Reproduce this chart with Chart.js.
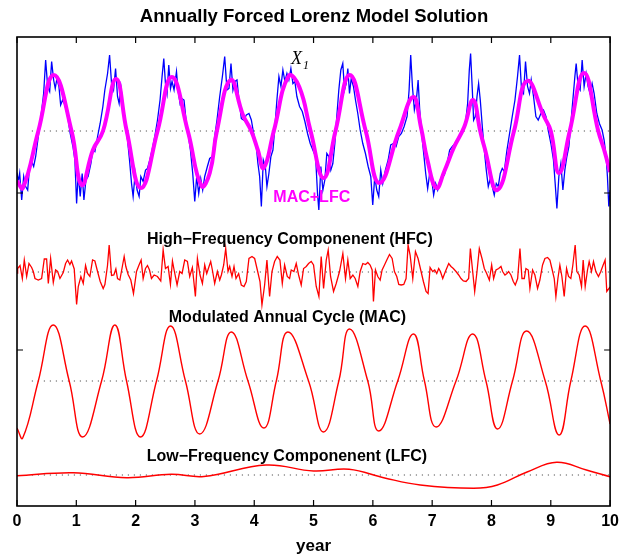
<!DOCTYPE html>
<html><head><meta charset="utf-8">
<script src="https://cdn.jsdelivr.net/npm/chart.js@4/dist/chart.umd.min.js"></script>
<style>html,body{margin:0;padding:0;background:#fff}canvas{display:block}</style>
</head><body>
<canvas id="c" width="625" height="558"></canvas>
<script>
// ---------- data (deviation of each component from its own zero line) ----------
const yearTicks = [0,1,2,3,4,5,6,7,8,9,10];
const yTickValues = [31.2, 62.6];

// X1 : full Lorenz variable (blue)
const x1T = [0.000,0.022,0.045,0.079,0.113,0.146,0.180,0.214,0.247,0.281,
0.315,0.359,0.404,0.449,0.483,0.517,0.551,0.584,0.618,0.645,
0.673,0.707,0.736,0.769,0.808,0.854,0.897,0.943,0.976,1.005,
1.032,1.066,1.099,1.128,1.162,1.199,1.246,1.279,1.313,1.359,
1.402,1.448,1.481,1.527,1.561,1.594,1.628,1.662,1.695,1.722,
1.751,1.785,1.818,1.864,1.897,1.931,1.958,1.992,2.025,2.059,
2.088,2.126,2.167,2.200,2.239,2.278,2.323,2.369,2.412,2.446,
2.475,2.503,2.530,2.559,2.588,2.614,2.648,2.689,2.715,2.749,
2.778,2.816,2.850,2.884,2.924,2.963,2.997,3.030,3.064,3.098,
3.131,3.165,3.210,3.249,3.295,3.333,3.372,3.418,3.463,3.502,
3.540,3.574,3.608,3.641,3.675,3.709,3.742,3.783,3.822,3.867,
3.911,3.951,3.990,4.035,4.062,4.091,4.120,4.153,4.187,4.214,
4.247,4.281,4.315,4.349,4.382,4.416,4.450,4.483,4.517,4.551,
4.584,4.618,4.652,4.685,4.719,4.764,4.810,4.854,4.899,4.944,
4.988,5.034,5.067,5.089,5.123,5.157,5.190,5.224,5.258,5.291,
5.325,5.359,5.392,5.426,5.460,5.493,5.522,5.551,5.578,5.606,
5.635,5.673,5.707,5.746,5.786,5.830,5.875,5.921,5.965,5.998,
6.032,6.066,6.099,6.133,6.167,6.212,6.258,6.301,6.347,6.392,
6.436,6.481,6.527,6.577,6.611,6.638,6.667,6.700,6.734,6.763,
6.790,6.823,6.857,6.891,6.924,6.958,6.992,7.025,7.059,7.093,
7.126,7.160,7.205,7.251,7.295,7.340,7.386,7.429,7.475,7.520,
7.564,7.598,7.626,7.648,7.677,7.699,7.727,7.756,7.783,7.811,
7.845,7.879,7.912,7.946,7.980,8.013,8.047,8.081,8.114,8.148,
8.182,8.215,8.261,8.305,8.350,8.396,8.439,8.473,8.507,8.540,
8.574,8.608,8.641,8.670,8.709,8.749,8.788,8.833,8.877,8.918,
8.956,9.002,9.045,9.074,9.103,9.136,9.170,9.204,9.237,9.271,
9.305,9.338,9.372,9.406,9.428,9.461,9.495,9.529,9.562,9.596,
9.630,9.663,9.697,9.731,9.776,9.820,9.865,9.899,9.933,9.955,
9.978,10.000];
const x1V = [-8.3,-10.1,-8.4,-13.8,-9.1,-11.1,-11.8,-6.8,-6.1,-7.1,
-5.1,-1.1,2.9,7.5,14.2,8.9,7.9,13.9,10.2,8.5,
10.5,8.9,5.2,6.2,5.2,2.9,-0.5,-3.1,-5.8,-14.5,
-8.5,-13.1,-8.5,-13.8,-9.8,-9.1,-6.5,-3.8,-4.1,-1.1,
1.5,4.9,8.2,11.5,15.2,9.5,8.2,12.5,6.9,5.5,
8.9,5.5,1.5,-1.8,-5.8,-10.5,-13.1,-8.5,-11.8,-13.1,
-9.1,-10.1,-7.8,-7.5,-5.8,-3.8,-1.1,2.2,6.2,10.9,
14.5,9.5,7.5,13.2,8.5,9.9,8.2,11.9,8.2,5.5,
6.5,6.2,2.2,-0.5,-3.8,-8.5,-14.1,-9.1,-12.5,-9.5,
-11.8,-9.1,-7.1,-5.5,-5.1,-1.1,2.2,6.9,10.9,14.9,
8.2,8.5,13.5,8.2,9.9,10.2,6.2,2.5,2.2,3.2,
3.5,2.2,-0.5,-3.1,-6.5,-9.1,-15.1,-5.8,-7.1,-11.1,
-8.5,-5.1,-3.8,0.9,6.2,10.9,8.9,12.2,9.9,11.5,
10.2,12.5,9.5,9.9,6.9,4.9,3.9,1.9,-0.5,-2.5,
-3.8,-5.1,-12.5,-15.8,-7.1,-11.8,-9.8,-4.5,-5.1,-7.8,
-6.5,-2.5,2.9,8.2,12.2,13.5,8.2,9.5,12.5,7.5,
10.5,8.9,6.2,3.5,0.2,-2.5,-4.5,-7.1,-9.1,-14.8,
-9.1,-11.8,-13.1,-7.8,-10.5,-7.8,-5.8,-2.8,-2.5,-3.1,
-1.1,-0.5,0.9,2.9,8.2,15.2,8.9,4.2,6.2,10.2,
4.2,-0.5,-4.5,-8.5,-11.5,-8.5,-9.8,-12.8,-10.5,-11.8,
-10.1,-9.1,-8.8,-6.5,-3.8,-3.1,-2.5,-1.8,-1.1,0.2,
1.9,5.5,12.2,15.5,8.2,2.2,2.9,6.9,9.5,6.2,
0.9,-3.8,-7.8,-11.1,-9.5,-11.1,-12.8,-10.5,-11.1,-8.5,
-7.5,-8.1,-3.8,-0.5,2.9,6.2,10.9,15.2,8.2,7.5,
13.9,8.9,7.5,10.2,6.9,2.9,2.2,3.5,4.2,2.9,
0.2,-2.5,-5.8,-10.5,-15.5,-9.1,-6.5,-11.8,-7.8,-5.1,
-3.1,1.5,6.2,10.9,13.5,8.9,8.2,14.2,8.9,11.5,
8.9,7.5,9.5,7.5,3.5,1.5,0.2,-1.8,-5.1,-9.1,
-15.1,-11.8];

// MAC+LFC (magenta)
const magT = [0,0.10,0.36,0.62,0.92,1.09,1.28,1.45,1.67,1.85,2.09,2.37,2.61,2.88,3.11,3.25,3.37,3.60,3.81,3.95,
4.06,4.16,4.33,4.58,4.76,4.95,5.17,5.37,5.61,5.88,6.11,6.44,6.68,6.81,6.92,7.07,7.20,7.37,7.54,7.69,
7.81,7.88,8.10,8.38,8.60,8.89,9.00,9.14,9.32,9.56,9.80,9.90,10.0];
const magV = [-10.0,-11.4,0,11.2,0,-10.8,-3.8,0,10.4,0,-11.4,0,10.8,0,-11.0,-8.4,0,10.2,3.2,0,
-3.8,-7.4,0,11.0,8.8,0,-9.4,0,11.2,0,-10.4,0,6.8,0.8,-5.8,-11.4,-8.2,-3.2,0.8,6.2,
0,-3.2,-11.8,0,10.0,2.8,0,-8.4,0,11.6,0,-3.8,-8.2];

// HFC
const hfcT = [0,0.011,0.051,0.090,0.123,0.163,0.202,0.247,0.275,0.303,
0.359,0.415,0.460,0.499,0.528,0.567,0.612,0.651,0.685,0.724,
0.780,0.819,0.853,0.892,0.920,0.965,1.005,1.033,1.077,1.117,
1.156,1.190,1.229,1.274,1.313,1.358,1.403,1.453,1.482,1.526,
1.554,1.594,1.633,1.667,1.695,1.734,1.773,1.807,1.835,1.874,
1.919,1.964,2.015,2.054,2.093,2.127,2.166,2.200,2.234,2.267,
2.312,2.368,2.424,2.464,2.503,2.548,2.587,2.621,2.649,2.699,
2.744,2.783,2.828,2.873,2.912,2.957,3.008,3.042,3.086,3.126,
3.165,3.199,3.238,3.266,3.294,3.333,3.378,3.418,3.446,3.485,
3.519,3.558,3.586,3.625,3.659,3.693,3.737,3.782,3.827,3.866,
3.911,3.962,4.007,4.052,4.097,4.130,4.175,4.214,4.259,4.299,
4.343,4.388,4.433,4.473,4.512,4.557,4.596,4.624,4.669,4.708,
4.748,4.792,4.832,4.877,4.916,4.961,5.000,
5.045,5.090,5.129,5.169,5.214,5.247,5.287,5.337,5.382,5.438,
5.494,5.539,5.578,5.618,5.663,5.702,5.747,5.786,5.831,5.876,
5.915,5.954,5.988,6.010,6.044,6.083,6.123,6.156,6.196,6.235,
6.280,6.325,6.364,6.403,6.437,6.476,6.521,6.560,6.594,6.628,
6.673,6.718,6.762,6.813,6.852,6.897,6.931,6.965,7.009,7.043,
7.077,7.110,7.139,7.178,7.223,7.279,7.318,7.357,7.402,7.447,
7.486,7.526,7.571,7.615,7.644,7.683,7.717,7.756,7.795,7.840,
7.879,7.919,7.964,8.003,8.036,8.076,8.121,8.160,8.188,8.227,
8.261,8.289,8.328,8.368,8.401,8.441,8.480,8.514,8.553,8.581,
8.620,8.648,8.693,8.732,8.777,8.816,8.861,8.901,8.946,8.985,
9.019,9.058,9.086,9.120,9.153,9.187,9.226,9.266,9.299,9.338,
9.372,9.411,9.439,9.479,9.518,9.546,9.580,9.619,9.647,9.686,
9.720,9.759,9.804,9.843,9.883,9.916,9.944,10.0];
const hfcV = [-0.2,0.7,1.3,-1.3,2.4,-0.9,1.7,0.9,0.1,-1.3,
-1.6,-1.3,2.6,2.6,-2.3,2.7,-2.1,0.4,0.1,-1.3,
-0.1,1.7,2.4,1.5,2.2,0.6,-6.5,-2.9,-0.9,-2.3,
1.3,-0.3,-0.9,2.4,2.2,0.1,-1.9,-3.3,-2.5,1.3,
5.4,-0.7,-0.6,0.6,-1.3,-1.6,0.9,3.1,1.1,-0.5,
-1.6,-4.3,0.1,1.3,2.4,-1.3,0.7,1.3,0.4,-1.3,
-0.6,-0.9,-1.8,4.4,0.7,1.1,-2.5,2.2,0.4,-2.6,
0.1,-0.3,2.4,2.1,-0.9,0.9,-4.9,2.7,-0.6,-2.3,
1.4,-0.3,1.1,2.1,0.4,-2.3,0.1,-1.6,-0.6,1.4,
4.7,0.1,1.1,-0.9,1.1,-1.3,-0.3,-2.6,-2.9,-1.9,
2.7,3.1,2.7,0.4,-1.9,-6.6,-2.6,2.4,-4.9,0.1,
2.1,3.1,2.4,-2.3,1.4,-0.9,-1.3,0.4,0.1,1.7,
-0.6,-2.6,0.7,1.1,1.7,2.1,1.4,
-2.9,-4.9,3.1,-3.3,2.4,4.4,-0.9,-3.9,-2.3,0.1,
3.7,-1.3,2.4,-1.3,-0.6,-1.3,-2.9,0.1,1.7,1.5,
1.9,1.4,0.4,-5.9,0.4,-0.9,-1.6,0.4,1.4,2.4,
3.5,2.7,0.1,-0.9,-2.5,-2.6,-2.5,-1.3,5.4,3.4,
-1.3,4.1,2.7,0.1,-1.9,-3.9,-4.3,0.9,0.1,0.4,
-0.3,0.7,0.1,-1.3,0.1,1.7,1.1,0.7,0.1,-0.6,
-1.3,-1.8,-1.9,-1.3,4.7,0.1,-3.9,0.1,4.7,2.7,
0.7,-0.3,-1.6,1.4,-1.3,0.4,0.7,1.1,0.1,-0.6,
-0.3,0.1,-0.6,-1.9,-2.6,-1.3,4.7,-1.3,-1.3,0.7,
0.4,-3.3,0.4,-0.6,-3.3,-1.6,1.4,2.7,2.9,2.4,
0.7,-1.3,-4.9,-1.3,1.4,-0.9,-4.9,0.7,-0.9,-1.3,
1.4,5.4,0.1,-0.6,-2.9,2.4,-2.9,0.4,2.1,0.1,
2.1,0.1,-0.9,0.1,1.4,2.4,-3.9,-3.0];

// MAC
const macT = [0,0.096,0.359,0.611,0.880,1.106,1.426,1.650,1.847,2.082,2.352,2.588,2.840,3.081,3.389,
3.614,3.894,4.163,4.372,4.567,4.916,5.168,5.426,5.606,5.914,6.099,6.419,6.684,6.870,7.066,
7.402,7.682,7.907,8.103,8.355,8.591,8.906,9.141,9.338,9.579,9.843,10.0];
const macV = [-9.4,-11.4,0,11.2,0,-11.2,0,11.2,0,-11.2,0,11.0,0,-10.6,0,
9.8,0,-9.4,0,9.8,0,-10.2,0,10.4,0,-10.0,0,9.4,0,-9.2,
0,9.4,0,-9.6,0,10.0,0,-10.8,0,11.0,0,-8.6];

// LFC
const lfcT = [0,0.95,1.85,2.6,3.15,4.2,5.0,5.6,6.2,6.8,7.7,8.1,8.6,9.1,9.6,10];
const lfcV = [-0.15,0.45,-0.55,0.15,-0.3,2.0,0.8,1.15,-0.6,-2.0,-2.65,-2.0,0.6,2.55,1.0,-0.35];

const labels = {
  title: 'Annually Forced Lorenz Model Solution',
  xTitle: 'year',
  hfc: 'High\u2212Frequency Componenent (HFC)',
  mac: 'Modulated Annual Cycle (MAC)',
  lfc: 'Low\u2212Frequency Componenent (LFC)',
  mag: 'MAC+LFC'
};

// ---------- layout (stacking offsets in y units) ----------
const OFF = {x1: 75, hfc: 46.8, mac: 25, lfc: 6.2};
const SANS = '"Liberation Sans", Arial, Helvetica, sans-serif';

function pts(ts, vs, base){ return ts.map((t,i)=>({x:t, y:base+vs[i]})); }
function zeroLine(base){ return {data:[{x:0.25,y:base},{x:10,y:base}], borderColor:'#555', borderWidth:1, borderDash:[1.2,4.8], pointRadius:0, order:10}; }

const decor = {
  id:'decor',
  afterDatasetsDraw(chart){
    const {ctx, chartArea:a, scales:{x,y}} = chart;
    ctx.save();
    ctx.textAlign='center'; ctx.textBaseline='middle';
    ctx.fillStyle='#000';
    ctx.font='bold 16px '+SANS;
    ctx.fillText(labels.hfc, x.getPixelForValue(4.6), y.getPixelForValue(53.2));
    ctx.fillText(labels.mac, x.getPixelForValue(4.56), y.getPixelForValue(37.6));
    ctx.fillText(labels.lfc, x.getPixelForValue(4.55), y.getPixelForValue(9.8));
    ctx.fillStyle='#ff00ff';
    ctx.fillText(labels.mag, x.getPixelForValue(4.97), y.getPixelForValue(61.7));
    // X1 label
    ctx.fillStyle='#000'; ctx.textAlign='left'; ctx.textBaseline='alphabetic';
    ctx.font='italic 18px "Liberation Serif", "Times New Roman", serif';
    const lx = x.getPixelForValue(4.62), ly = y.getPixelForValue(88.4);
    ctx.fillText('X', lx, ly);
    ctx.font='italic 12px "Liberation Serif", "Times New Roman", serif';
    ctx.fillText('1', lx + 12, ly + 5);
    // axes box
    ctx.strokeStyle='#000'; ctx.lineWidth=1.6;
    ctx.strokeRect(a.left, a.top, a.right-a.left, a.bottom-a.top);
    ctx.lineWidth=1.2;
    ctx.beginPath();
    for (const v of yearTicks){
      const px = x.getPixelForValue(v);
      ctx.moveTo(px, a.bottom); ctx.lineTo(px, a.bottom-6);
      ctx.moveTo(px, a.top); ctx.lineTo(px, a.top+6);
    }
    for (const v of yTickValues){
      const py = y.getPixelForValue(v);
      ctx.moveTo(a.left, py); ctx.lineTo(a.left+6, py);
      ctx.moveTo(a.right, py); ctx.lineTo(a.right-6, py);
    }
    ctx.stroke();
    ctx.restore();
  }
};

new Chart(document.getElementById('c'), {
  type:'line',
  data:{datasets:[
    zeroLine(OFF.x1), zeroLine(OFF.hfc), zeroLine(OFF.mac), zeroLine(OFF.lfc),
    {data:pts(x1T,x1V,OFF.x1), borderColor:'#0000ff', borderWidth:1.3, pointRadius:0, tension:0, order:3},
    {data:pts(magT,magV,OFF.x1), borderColor:'#ff00ff', borderWidth:4, pointRadius:0, tension:0.45, order:1},
    {data:pts(hfcT,hfcV,OFF.hfc), borderColor:'#ff0000', borderWidth:1.3, pointRadius:0, tension:0, order:2},
    {data:pts(macT,macV,OFF.mac), borderColor:'#ff0000', borderWidth:1.4, pointRadius:0, tension:0.45, order:2},
    {data:pts(lfcT,lfcV,OFF.lfc), borderColor:'#ff0000', borderWidth:1.4, pointRadius:0, tension:0.4, order:2}
  ]},
  options:{
    responsive:false, animation:false, devicePixelRatio:1,
    layout:{padding:{left:17,right:14,top:0,bottom:0}},
    plugins:{
      legend:{display:false}, tooltip:{enabled:false},
      title:{display:true, text:labels.title, color:'#000', font:{family:SANS, size:18.5, weight:'bold', lineHeight:1.2}, padding:{top:5.8,bottom:9}}
    },
    scales:{
      x:{type:'linear', min:0, max:10,
        grid:{display:false, drawTicks:false}, border:{display:false},
        ticks:{stepSize:1, color:'#000', padding:6, font:{family:SANS, size:16, weight:'bold'}, maxRotation:0},
        title:{display:true, text:labels.xTitle, color:'#000', font:{family:SANS, size:17, weight:'bold'}, padding:{top:0,bottom:1}},
        afterFit(s){ s.height = 52; }
      },
      y:{type:'linear', min:0, max:93.8, display:false}
    }
  },
  plugins:[decor]
});
</script>
</body></html>
